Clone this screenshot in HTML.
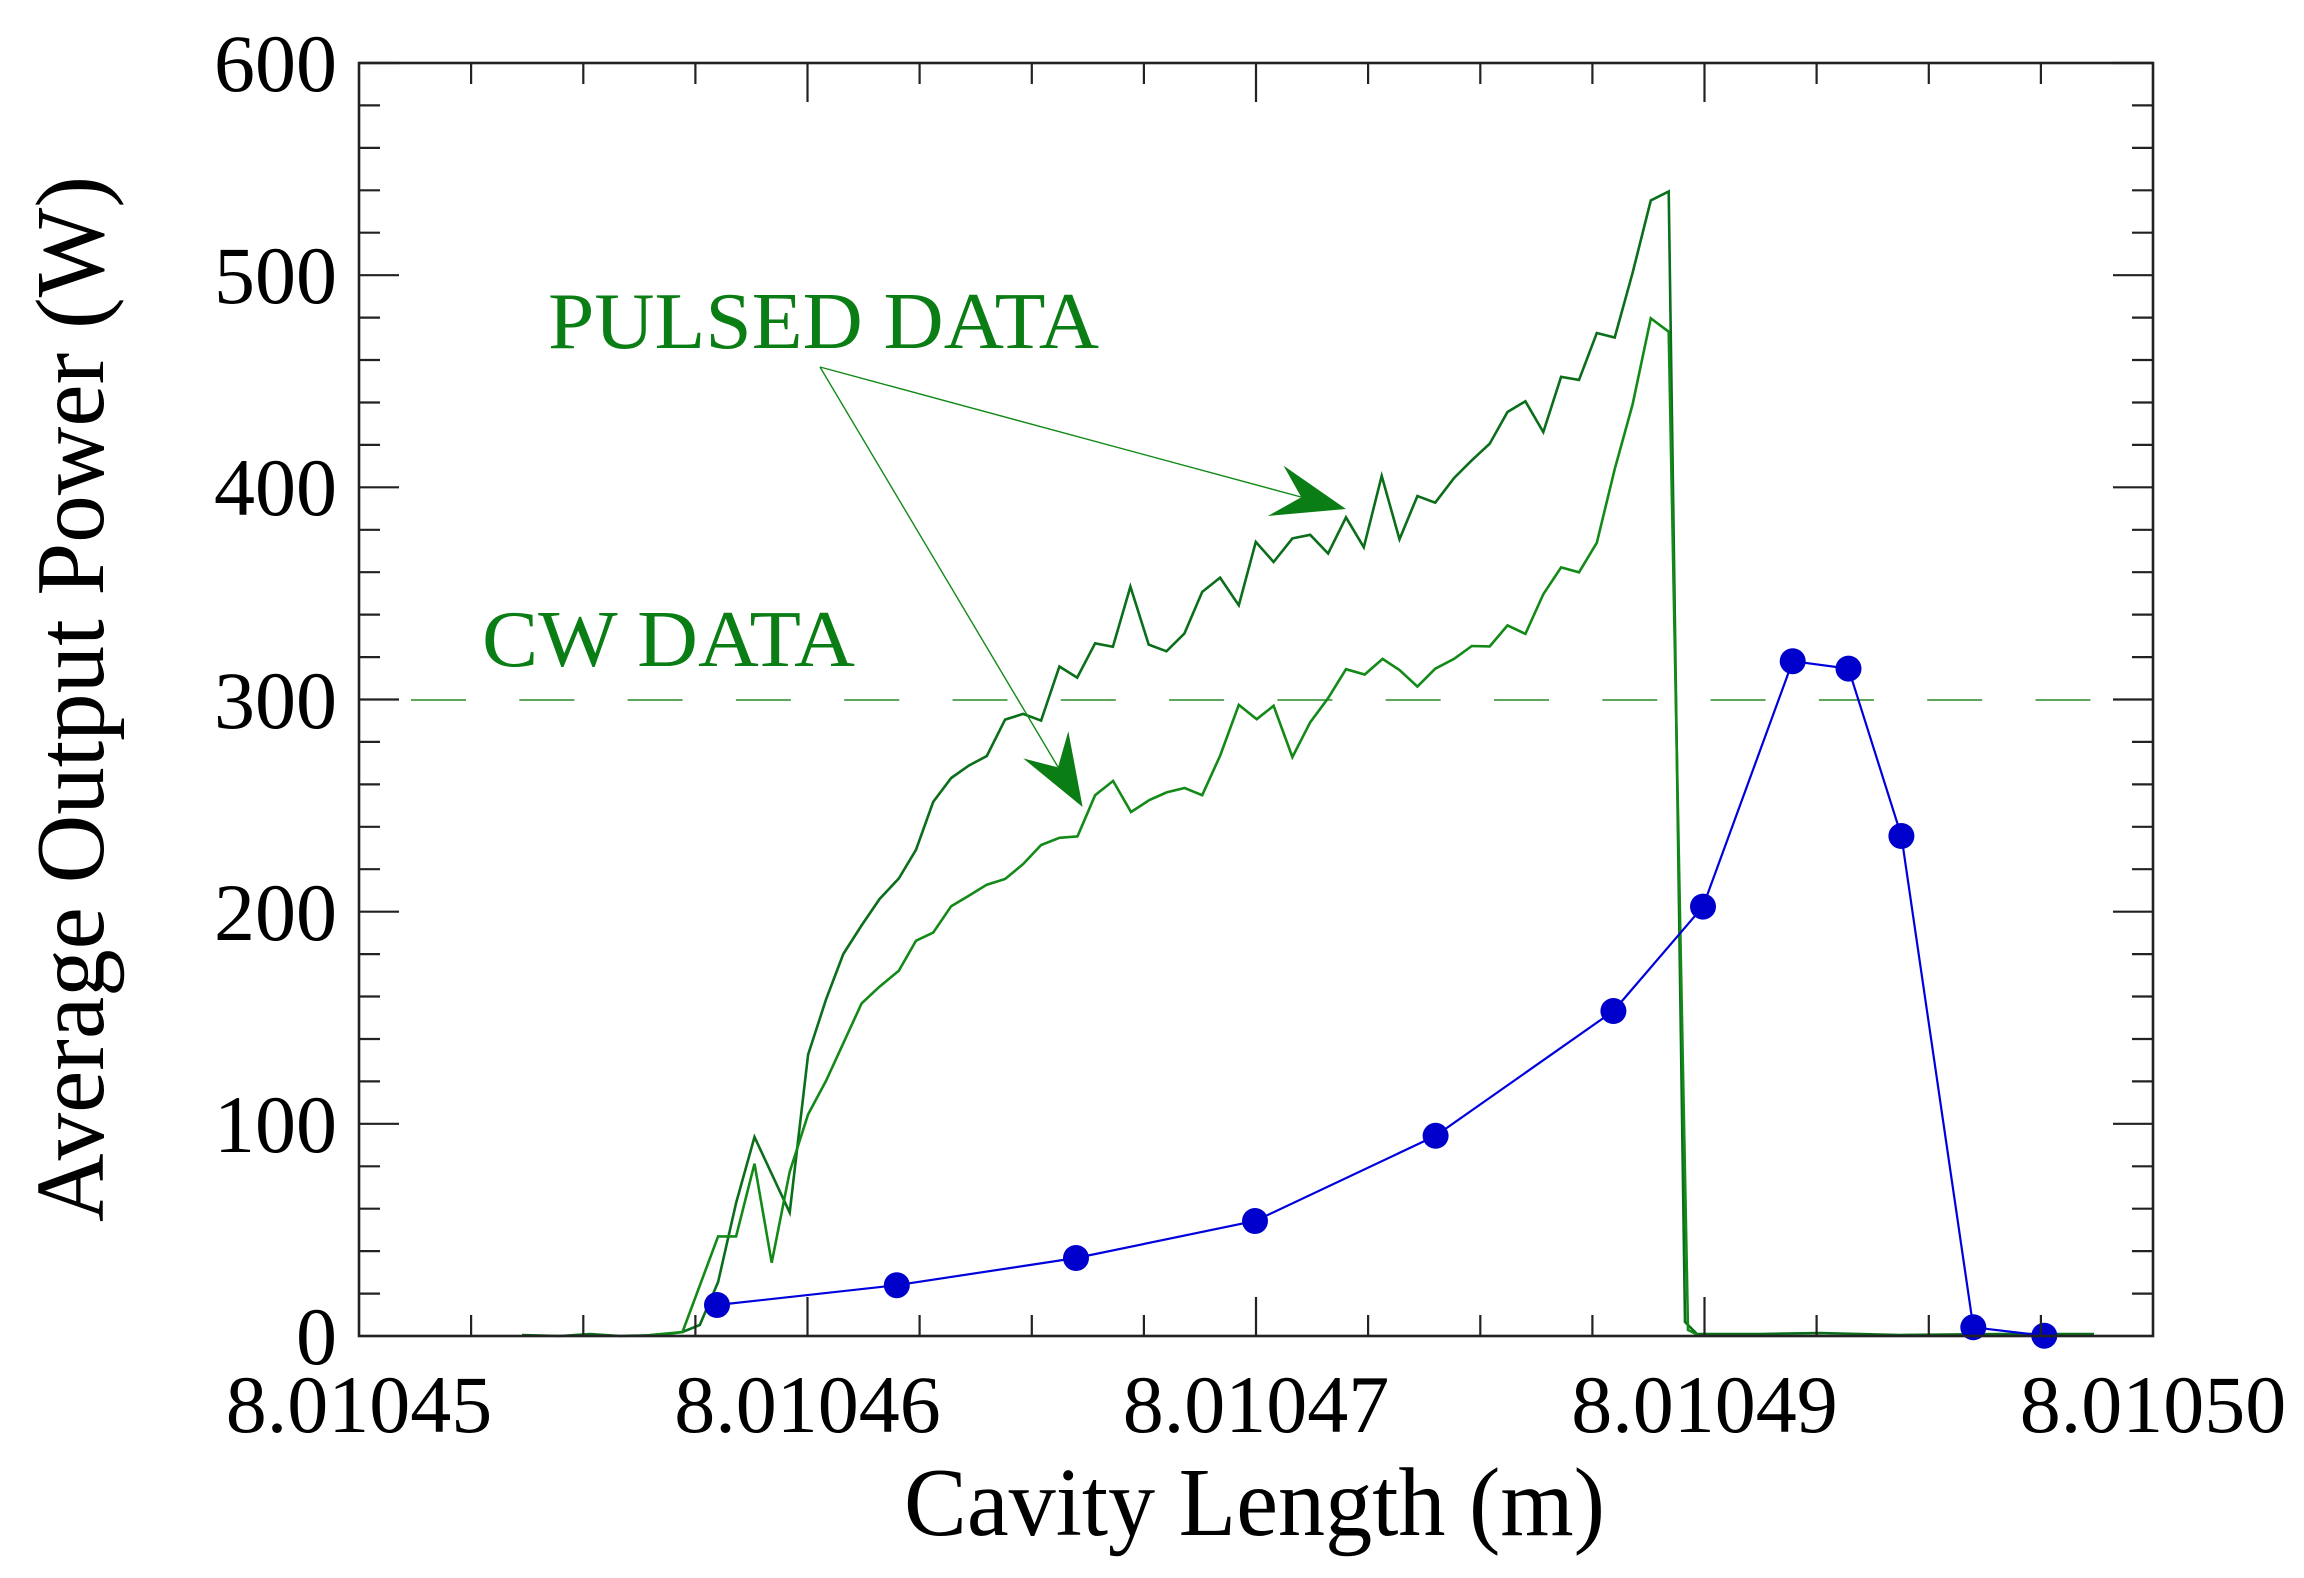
<!DOCTYPE html>
<html><head><meta charset="utf-8"><style>
html,body{margin:0;padding:0;background:#fff}
svg{display:block}
text{font-family:"Liberation Serif",serif}
</style></head><body>
<svg width="2304" height="1578" viewBox="0 0 2304 1578" xmlns="http://www.w3.org/2000/svg">
<rect width="2304" height="1578" fill="#fff"/>
<!-- dashed CW line -->
<line x1="411" y1="700" x2="2094" y2="700" stroke="#2a8a2a" stroke-width="1.6" stroke-dasharray="55 53.3"/>
<!-- green curves -->
<polyline fill="none" stroke="#0b6e1a" stroke-width="2.6" stroke-linejoin="miter" points="522,1335 560,1336 590,1334 620,1336 660,1335 682.5,1332 699.8,1325 718.1,1282 736.1,1203 754.5,1137 789.7,1212.5 808.1,1054.6 826,999.5 843.3,954 861.6,925.4 879.6,899 898.8,878.5 916,849.8 933.2,801.9 951.2,778 968.8,765.6 986.8,756 1005.1,719.6 1023.1,713.9 1041.1,720.6 1059.4,666.5 1077.2,677.6 1095.1,643.3 1112.9,646.8 1130.4,586.6 1148.7,644.6 1166.5,651.3 1184.4,633.5 1202.2,591.9 1220.1,577.6 1238.8,605.3 1255.8,541.9 1273.6,562 1292.4,538.4 1310.2,534.8 1328.1,553.5 1346,517.4 1363.8,547.3 1381.7,475.9 1399.5,539.3 1417.4,496 1435.2,502.7 1454,478.1 1471.8,460.3 1489.7,443.7 1507.5,412 1525.4,401.3 1543.3,432.1 1561.1,376.8 1579,379.9 1596.8,333 1614.7,337.5 1632.6,272.8 1650.8,200.4 1668.7,191.5 1685,1322 1697,1334 1760,1334 1820,1333 1900,1335 2000,1334 2094,1334"/>
<polyline fill="none" stroke="#138a18" stroke-width="2.6" points="650,1335 682.5,1332 718.1,1236.4 736.1,1236.4 754.5,1163.7 771.7,1262.7 789.7,1171.8 808.1,1114.4 826,1080.9 861.6,1003.4 879.6,986.6 898.8,970.8 916,940.7 933.2,932.6 951.2,906.2 968.8,895.7 986.8,884.7 1005.1,879 1023.1,864.1 1041.1,845 1059.5,837.8 1077.5,836.4 1095.1,795.2 1113.1,780.9 1131,812 1149.4,800 1166.6,792.4 1184.6,788 1202.2,795.2 1220.2,755.5 1238.8,704.9 1256.7,719.2 1273.6,705.8 1292.4,757.1 1310.2,722.3 1328.1,698.2 1346,669.2 1364.7,674.5 1382.6,658.9 1399.5,670 1417.4,686.6 1435.2,668.7 1454,658.9 1471.8,646 1489.7,646.4 1507.5,625.4 1525.4,633.9 1543.3,594.2 1561.1,567.4 1579,572.3 1596.8,542.8 1614.7,469.2 1632.6,404.4 1650.8,318.3 1668.7,331.7 1688,1330 1700,1336"/>
<!-- arrows -->
<line x1="820" y1="367" x2="1301" y2="497" stroke="#138a18" stroke-width="1.4"/>
<polygon points="1346,509 1283.5,465.6 1301.3,497.3 1267.8,516" fill="#0a7d14"/>
<line x1="820" y1="367" x2="1058" y2="767" stroke="#138a18" stroke-width="1.4"/>
<polygon points="1082.6,807 1023.2,758.4 1058,767.4 1068.3,731.2" fill="#0a7d14"/>
<text x="548" y="348" font-size="80" fill="#0a7d14" textLength="551" lengthAdjust="spacingAndGlyphs">PULSED DATA</text>
<text x="482" y="666" font-size="80" fill="#0a7d14" textLength="373" lengthAdjust="spacingAndGlyphs">CW DATA</text>
<!-- blue -->
<polyline fill="none" stroke="#0000dd" stroke-width="2.2" points="717,1305 896.8,1285.2 1076,1258 1255,1221 1435.6,1135.8 1613.4,1011 1703,906.6 1792.7,661.2 1848.5,668.6 1901.4,836 1973.3,1327.3 2044.3,1335.7"/>
<g fill="#0000cc">
<circle cx="717" cy="1305" r="13"/><circle cx="896.8" cy="1285.2" r="13"/><circle cx="1076" cy="1258" r="13"/><circle cx="1255" cy="1221" r="13"/><circle cx="1435.6" cy="1135.8" r="13"/><circle cx="1613.4" cy="1011" r="13"/><circle cx="1703" cy="906.6" r="13"/><circle cx="1792.7" cy="661.2" r="13"/><circle cx="1848.5" cy="668.6" r="13"/><circle cx="1901.4" cy="836" r="13"/><circle cx="1973.3" cy="1327.3" r="13"/><circle cx="2044.3" cy="1335.7" r="13"/>
</g>
<!-- axes frame -->
<rect x="359" y="63" width="1794" height="1273" fill="none" stroke="#222" stroke-width="2.6"/>
<g stroke="#222" stroke-width="2.2" id="ticks">
<!-- y ticks: major every 212.17, minor every 42.43 -->
<path d="M359 63h40M359 105.4h21M359 147.9h21M359 190.3h21M359 232.7h21M359 275.2h40M359 317.6h21M359 360h21M359 402.5h21M359 444.9h21M359 487.3h40M359 529.8h21M359 572.2h21M359 614.6h21M359 657.1h21M359 699.5h40M359 741.9h21M359 784.4h21M359 826.8h21M359 869.2h21M359 911.7h40M359 954.1h21M359 996.5h21M359 1039h21M359 1081.4h21M359 1123.8h40M359 1166.3h21M359 1208.7h21M359 1251.1h21M359 1293.6h21"/>
<path d="M2153 63h-40M2153 105.4h-21M2153 147.9h-21M2153 190.3h-21M2153 232.7h-21M2153 275.2h-40M2153 317.6h-21M2153 360h-21M2153 402.5h-21M2153 444.9h-21M2153 487.3h-40M2153 529.8h-21M2153 572.2h-21M2153 614.6h-21M2153 657.1h-21M2153 699.5h-40M2153 741.9h-21M2153 784.4h-21M2153 826.8h-21M2153 869.2h-21M2153 911.7h-40M2153 954.1h-21M2153 996.5h-21M2153 1039h-21M2153 1081.4h-21M2153 1123.8h-40M2153 1166.3h-21M2153 1208.7h-21M2153 1251.1h-21M2153 1293.6h-21"/>
<!-- x ticks -->
<path d="M471.1 1336v-21M583.3 1336v-21M695.4 1336v-21M807.5 1336v-39M919.6 1336v-21M1031.8 1336v-21M1143.9 1336v-21M1256 1336v-39M1368.1 1336v-21M1480.3 1336v-21M1592.4 1336v-21M1704.5 1336v-39M1816.6 1336v-21M1928.8 1336v-21M2040.9 1336v-21"/>
<path d="M471.1 63v21M583.3 63v21M695.4 63v21M807.5 63v39M919.6 63v21M1031.8 63v21M1143.9 63v21M1256 63v39M1368.1 63v21M1480.3 63v21M1592.4 63v21M1704.5 63v39M1816.6 63v21M1928.8 63v21M2040.9 63v21"/>
</g>
<!-- tick labels -->
<g font-size="82" text-anchor="end" fill="#000">
<text x="337" y="91">600</text>
<text x="337" y="303">500</text>
<text x="337" y="515">400</text>
<text x="337" y="728">300</text>
<text x="337" y="940">200</text>
<text x="337" y="1152">100</text>
<text x="337" y="1364">0</text>
</g>
<g font-size="82" text-anchor="middle" fill="#000">
<text x="359" y="1432">8.01045</text>
<text x="807.5" y="1432">8.01046</text>
<text x="1256" y="1432">8.01047</text>
<text x="1704.5" y="1432">8.01049</text>
<text x="2153" y="1432">8.01050</text>
</g>
<text x="904" y="1535" font-size="98" fill="#000" textLength="701" lengthAdjust="spacingAndGlyphs">Cavity Length (m)</text>
<text transform="translate(103,1222) rotate(-90)" font-size="98" fill="#000" textLength="1046" lengthAdjust="spacingAndGlyphs">Average Output Power (W)</text>
</svg>
</body></html>
